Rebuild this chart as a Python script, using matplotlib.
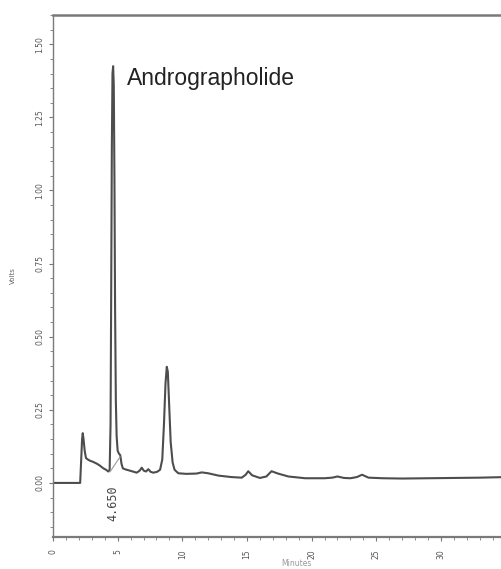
import numpy as np
import matplotlib.pyplot as plt
from matplotlib.ticker import MultipleLocator, FormatStrFormatter

# Chromatogram trace (minutes, volts)
minutes = [0.0, 2.10, 2.18, 2.25, 2.30, 2.36, 2.45, 2.55, 2.70, 2.86, 3.10, 3.38,
           3.60, 3.89, 4.10, 4.28, 4.38, 4.45, 4.50, 4.55, 4.60, 4.65, 4.70, 4.75,
           4.80, 4.86, 4.92, 5.00, 5.10, 5.20, 5.30, 5.40, 5.55, 5.70, 6.10, 6.47,
           6.70, 6.86, 7.02, 7.19, 7.37, 7.55, 7.76, 8.05, 8.28, 8.45, 8.58, 8.70,
           8.80, 8.88, 8.98, 9.10, 9.25, 9.40, 9.69, 10.3, 11.1, 11.5, 12.0, 12.8,
           13.8, 14.6, 14.9, 15.1, 15.4, 16.0, 16.5, 16.9, 17.4, 18.2, 19.5, 21.0,
           21.6, 22.0, 22.5, 23.0, 23.5, 23.9, 24.4, 25.5, 27.0, 29.0, 31.0, 33.0,
           35.0, 37.7]
volts = [0.0, 0.0, 0.08, 0.15, 0.17, 0.15, 0.11, 0.085, 0.08, 0.076, 0.072, 0.066,
         0.06, 0.05, 0.045, 0.039, 0.045, 0.20, 0.65, 1.15, 1.40, 1.425, 1.36, 1.05,
         0.60, 0.28, 0.16, 0.11, 0.10, 0.095, 0.065, 0.05, 0.047, 0.045, 0.04, 0.035,
         0.042, 0.052, 0.042, 0.039, 0.047, 0.038, 0.035, 0.038, 0.045, 0.08, 0.20, 0.34,
         0.397, 0.38, 0.27, 0.14, 0.07, 0.045, 0.033, 0.031, 0.032, 0.036, 0.033, 0.025,
         0.02, 0.018, 0.028, 0.04, 0.026, 0.017, 0.022, 0.040, 0.032, 0.022, 0.016, 0.016,
         0.018, 0.022, 0.017, 0.016, 0.020, 0.028, 0.018, 0.016, 0.015, 0.016, 0.017, 0.018,
         0.020, 0.021]

# integration baseline under the main peak
base_x = [4.41, 5.18]
base_y = [0.038, 0.089]

peak_time = 4.650
peak_name = "Andrographolide"

fig = plt.figure(figsize=(5.02, 5.69), dpi=100)
ax = fig.add_axes([0.1056, 0.0562, 0.970, 0.9174])

ax.plot(minutes, volts, color='#4d4d4d', lw=1.5)
ax.plot(base_x, base_y, color='#9a9a9a', lw=0.8)

ax.set_xlim(0, 37.66)
ax.set_ylim(-0.185, 1.60)

ax.xaxis.set_major_locator(MultipleLocator(5))
ax.xaxis.set_minor_locator(MultipleLocator(1))
ax.yaxis.set_major_locator(MultipleLocator(0.25))
ax.yaxis.set_minor_locator(MultipleLocator(0.05))
ax.yaxis.set_major_formatter(FormatStrFormatter('%.2f'))

ax.tick_params(which='both', direction='out', colors='#777777', labelcolor='#555555')
ax.tick_params(axis='y', which='major', length=3, labelsize=5.5, pad=3, labelrotation=90)
ax.tick_params(axis='x', which='major', length=3, labelsize=5.5, pad=6, labelrotation=90)
ax.tick_params(which='minor', length=2)
for lab in ax.get_yticklabels():
    lab.set_va('center')

for side in ['left', 'bottom', 'top', 'right']:
    ax.spines[side].set_color('#7a7a7a')
ax.spines['left'].set_linewidth(1.0)
ax.spines['bottom'].set_linewidth(1.6)
ax.spines['top'].set_linewidth(1.8)

ax.set_ylabel('Volts', fontsize=5, color='#666666', labelpad=14)
ax.set_xlabel('Minutes', fontsize=5.5, color='#999999', labelpad=0)

ax.text(5.7, 1.36, peak_name, fontsize=16.5, family='Liberation Sans',
        color='#222222', va='baseline', ha='left')
ax.text(peak_time, -0.008, f"{peak_time:.3f}", rotation=90, fontsize=8.5,
        family='DejaVu Sans Mono', color='#444444', ha='center', va='top')

fig.savefig('out.png', dpi=100)
